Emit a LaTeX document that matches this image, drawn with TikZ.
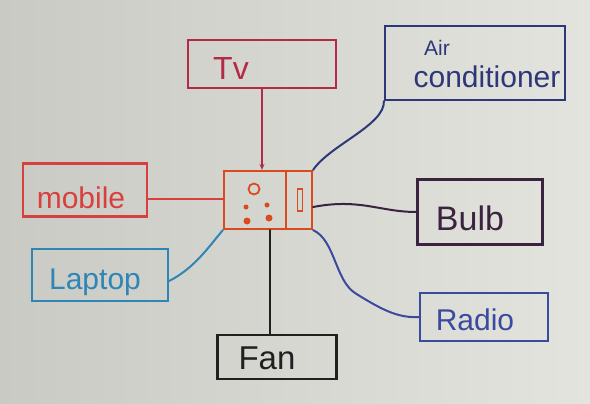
\documentclass[tikz,border=0pt]{standalone}
\usepackage{fontspec}
\setmainfont{Liberation Sans}
\usetikzlibrary{arrows.meta}
\definecolor{paperL}{HTML}{CACAC4}
\definecolor{paperR}{HTML}{E4E4DE}
\definecolor{tvc}{HTML}{B32A48}
\definecolor{mobc}{HTML}{D8403F}
\definecolor{sockc}{HTML}{D94A1E}
\definecolor{lapc}{HTML}{2F85B5}
\definecolor{fanc}{HTML}{202020}
\definecolor{bulbc}{HTML}{3B2340}
\definecolor{radc}{HTML}{3A4A9E}
\definecolor{acc}{HTML}{2E3878}
\begin{document}
\begin{tikzpicture}[x=1pt,y=-1pt,
  box/.style={draw, line width=2.2pt, inner sep=0pt},
  lbl/.style={inner sep=0pt, font=\fontsize{30}{30}\selectfont},
  wire/.style={line width=2pt, line cap=round}]
\path[left color=paperL, right color=paperR] (0,0) rectangle (590,404);
\useasboundingbox (0,0) rectangle (590,404);

% boxes
\node[box, draw=tvc, minimum width=148pt, minimum height=48pt] (tv) at (262,64) {};
\node[lbl, text=tvc, font=\fontsize{32}{32}\selectfont] (tvt) at (231,68) {Tv};

\node[box, draw=acc, minimum width=180pt, minimum height=74pt] (ac) at (475,63) {};
\node[lbl, text=acc, font=\fontsize{21}{21}\selectfont] (act1) at (437,48) {Air};
\node[lbl, text=acc] (act2) at (487,77) {conditioner};

\node[box, draw=mobc, minimum width=124pt, minimum height=53pt] (mob) at (85,190) {};
\node[lbl, text=mobc] (mobt) at (81,198) {mobile};

\node[box, draw=lapc, minimum width=136pt, minimum height=52pt] (lap) at (100,275) {};
\node[lbl, text=lapc] (lapt) at (95,282) {Laptop};

\node[box, draw=bulbc, minimum width=125pt, minimum height=65pt] (bulb) at (480,212) {};
\node[lbl, text=bulbc, font=\fontsize{34}{34}\selectfont] (bulbt) at (470,218) {Bulb};

\node[box, draw=radc, minimum width=128pt, minimum height=48pt] (rad) at (484,317) {};
\node[lbl, text=radc] (radt) at (475,320) {Radio};

\node[box, draw=fanc, minimum width=119pt, minimum height=44pt] (fan) at (277,357) {};
\node[lbl, text=fanc, font=\fontsize{33}{33}\selectfont] (fant) at (267,358) {Fan};

% socket
\node[box, draw=sockc, minimum width=88pt, minimum height=58pt] (sock) at (268,200) {};
\draw[sockc, line width=2.2pt] ([xshift=63pt]sock.north west) -- ([xshift=63pt]sock.south west);
\node[circle, draw=sockc, line width=1.8pt, minimum size=11pt, inner sep=0pt] (hole) at (254,189) {};
\node[circle, fill=sockc, minimum size=5pt, inner sep=0pt] (d1) at (246,207) {};
\node[circle, fill=sockc, minimum size=5pt, inner sep=0pt] (d2) at (267,205) {};
\node[circle, fill=sockc, minimum size=7pt, inner sep=0pt] (d3) at (247,221) {};
\node[circle, fill=sockc, minimum size=7pt, inner sep=0pt] (d4) at (269,218) {};
\node[draw=sockc, line width=1.8pt, minimum width=5pt, minimum height=22pt, inner sep=0pt] (sw) at (300,200) {};

% connectors
\draw[wire, tvc, -{Stealth[length=6pt,width=5pt]}] (tv.south) -- (tv.south |- sock.north);
\draw[wire, mobc] ([yshift=-9pt]mob.east) -- ([yshift=-9pt]mob.east -| sock.west);
\draw[wire, lapc] ([yshift=-6pt]lap.east) .. controls (195,268) and (210,245) .. (sock.south west);
\draw[wire, fanc] ([xshift=-7pt]fan.north) -- ([xshift=-7pt]fan.north |- sock.south);
\draw[wire, bulbc] ([yshift=-7pt]sock.east) .. controls (360,198) and (380,212) .. (bulb.west);
\draw[wire, radc] (sock.south east) .. controls (335,240) and (335,280) .. (355,293)
  .. controls (385,312) and (400,318) .. (rad.west);
\draw[wire, acc] (sock.north east) .. controls (330,145) and (385,125) .. (ac.south west);
\end{tikzpicture}
\end{document}
